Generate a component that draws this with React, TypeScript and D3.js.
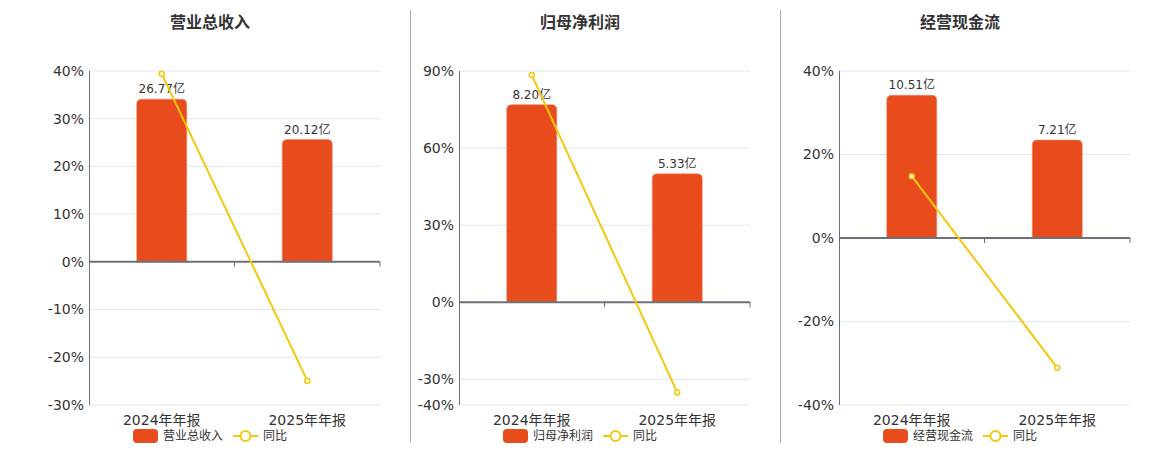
import React from 'react';
import * as d3 from 'd3';

const categories = ['2024年年报', '2025年年报'];
const panelTitles = ['营业总收入', '归母净利润', '经营现金流'];
const barValues = [
  [26.77, 20.12],
  [8.2, 5.33],
  [10.51, 7.21],
];
const yoyValues = [
  [39.4, -24.9],
  [88.4, -35.1],
  [14.8, -31.1],
];
const pctTicks = [
  [-30, -20, -10, 0, 10, 20, 30, 40],
  [-40, -30, 0, 30, 60, 90],
  [-40, -20, 0, 20, 40],
];
// hidden axis for the bars (亿), top of it lines up with the top % tick
const barAxisMax = [31.4, 9.6, 12.3];
const yoyName = '同比';

const panelX = [0, 370, 750];
const dividerX = [410, 780];
const FONT = '"DejaVu Sans", "Noto Sans CJK SC", sans-serif';
const BAR = '#e84c1c';
const LINE = '#f3c80b';

function topRoundedBar(x: number, y: number, w: number, h: number, r: number) {
  const rr = Math.min(r, h / 2, w / 2);
  return `M${x},${y + h}V${y + rr}Q${x},${y} ${x + rr},${y}H${x + w - rr}Q${x + w},${y} ${x + w},${y + rr}V${y + h}Z`;
}

function Panel({ i }: { i: number }) {
  const ox = panelX[i];
  const left = ox + 89;
  const right = ox + 380;
  const top = 71;
  const bottom = 405;
  const center = ox + 210;

  const ticks = pctTicks[i];
  const [pMin, pMax] = d3.extent(ticks) as [number, number];
  const y = d3.scaleLinear([pMin, pMax], [bottom, top]);
  const bMax = barAxisMax[i];
  const yBar = d3.scaleLinear([(bMax * pMin) / pMax, bMax], [bottom, top]);
  const x = d3.scaleBand(categories, [left, right]);
  const bw = 50;
  const zero = y(0);

  const line = d3
    .line<number>()
    .x((_, j) => x(categories[j])! + x.bandwidth() / 2)
    .y((d) => y(d));

  // legend
  const title = panelTitles[i];
  const legW = 25 + 5 + title.length * 12 + 10 + 25 + 5 + yoyName.length * 12;
  const lx = center - legW / 2;
  const ly = 436;

  return (
    <g fontFamily={FONT}>
      <text x={center} y={28} textAnchor="middle" fontSize={16} fontWeight="bold" fill="#333">
        {title}
      </text>
      {ticks.map((t) => (
        <g key={t}>
          {t !== 0 && (
            <line x1={left} x2={right} y1={y(t)} y2={y(t)} stroke="#e0e6f1" strokeWidth={1} />
          )}
          <text x={left - 5} y={y(t)} dy="0.35em" textAnchor="end" fontSize={14} fill="#333">
            {`${t}%`}
          </text>
        </g>
      ))}
      <line x1={left + 0.5} x2={left + 0.5} y1={top} y2={bottom} stroke="#6e7079" strokeWidth={1} />
      {categories.map((c, j) => {
        const v = barValues[i][j];
        const bx = x(c)! + x.bandwidth() / 2 - bw / 2;
        const by = yBar(v);
        return (
          <g key={c}>
            <path
              d={topRoundedBar(bx, by, bw, yBar(0) - by, 5)}
              fill={BAR}
              stroke="#f0846a"
              strokeWidth={0.6}
            />
            <text
              x={bx + bw / 2}
              y={by - 6}
              textAnchor="middle"
              fontSize={12}
              fill="#333"
            >
              {`${v.toFixed(2)}亿`}
            </text>
            <text
              x={x(c)! + x.bandwidth() / 2}
              y={425}
              textAnchor="middle"
              fontSize={14}
              fill="#333"
            >
              {c}
            </text>
          </g>
        );
      })}
      <line x1={left} x2={right} y1={zero} y2={zero} stroke="#6e7079" strokeWidth={2} />
      {categories.map((c) => (
        <line
          key={c}
          x1={x(c)! + x.bandwidth()}
          x2={x(c)! + x.bandwidth()}
          y1={zero}
          y2={zero + 5}
          stroke="#6e7079"
          strokeWidth={1}
        />
      ))}
      <path d={line(yoyValues[i])!} fill="none" stroke={LINE} strokeWidth={2} />
      {yoyValues[i].map((v, j) => (
        <circle
          key={j}
          cx={x(categories[j])! + x.bandwidth() / 2}
          cy={y(v)}
          r={2.5}
          fill="#fff"
          stroke={LINE}
          strokeWidth={1.5}
        />
      ))}
      <g fontSize={12} fill="#333">
        <rect x={lx} y={ly - 7} width={25} height={14} rx={4} fill={BAR} />
        <text x={lx + 30} y={ly} dy="0.35em">
          {title}
        </text>
        <line
          x1={lx + 30 + title.length * 12 + 10}
          x2={lx + 30 + title.length * 12 + 35}
          y1={ly}
          y2={ly}
          stroke={LINE}
          strokeWidth={2}
        />
        <circle
          cx={lx + 30 + title.length * 12 + 22.5}
          cy={ly}
          r={5}
          fill="#fff"
          stroke={LINE}
          strokeWidth={2}
        />
        <text x={lx + 30 + title.length * 12 + 40} y={ly} dy="0.35em">
          {yoyName}
        </text>
      </g>
    </g>
  );
}

export default function App() {
  return (
    <svg
      width={1160}
      height={450}
      style={{ position: 'absolute', left: 0, top: 0, background: '#fff' }}
    >
      {panelTitles.map((_, i) => (
        <Panel key={i} i={i} />
      ))}
      {dividerX.map((dx) => (
        <line key={dx} x1={dx + 0.5} x2={dx + 0.5} y1={10} y2={443} stroke="#aaa" strokeWidth={1} />
      ))}
    </svg>
  );
}
